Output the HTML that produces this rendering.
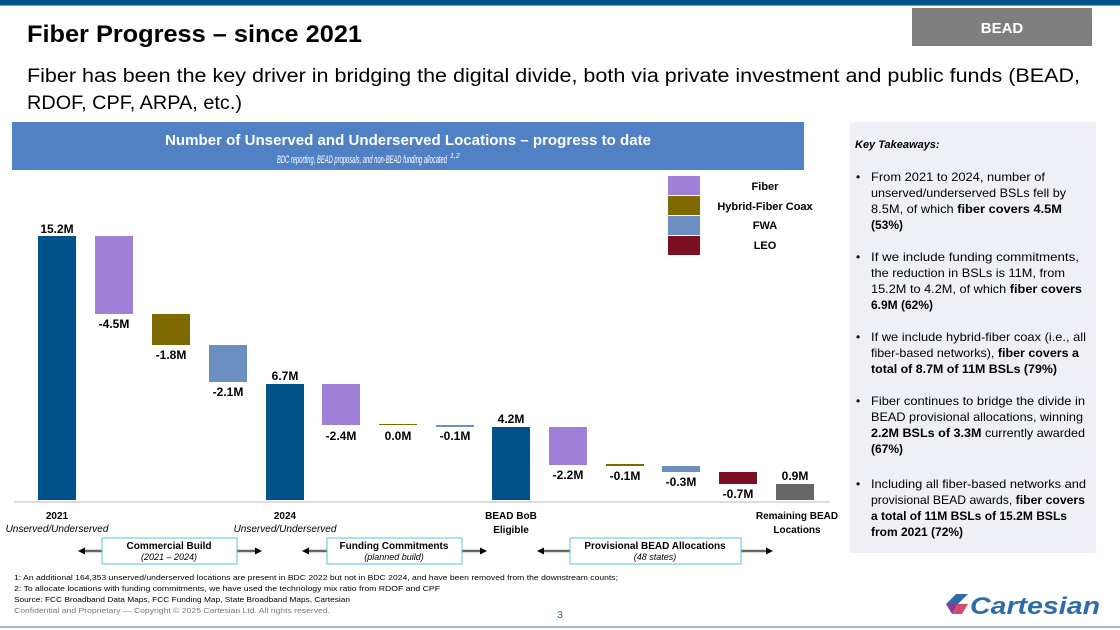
<!DOCTYPE html>
<html><head><meta charset="utf-8"><style>
html,body{margin:0;padding:0;background:#fff;}
svg{display:block;font-family:"Liberation Sans",sans-serif;}
</style></head><body>
<svg width="1120" height="630" viewBox="0 0 1120 630" xmlns="http://www.w3.org/2000/svg">
<rect x="0" y="0" width="1120" height="5" fill="#00538a"/>
<rect x="0" y="5" width="1120" height="1" fill="#7fa7cc"/>
<text x="27" y="42" font-size="24" font-weight="bold" fill="#000" textLength="335" lengthAdjust="spacingAndGlyphs">Fiber Progress – since 2021</text>
<rect x="912" y="8" width="180" height="38" fill="#7f7f7f"/>
<text x="1002" y="33" font-size="15" font-weight="bold" fill="#fff" text-anchor="middle">BEAD</text>
<text x="27" y="82" font-size="19" fill="#000" textLength="1053" lengthAdjust="spacingAndGlyphs">Fiber has been the key driver in bridging the digital divide, both via private investment and public funds (BEAD,</text>
<text x="27" y="109" font-size="19" fill="#000" textLength="215" lengthAdjust="spacingAndGlyphs">RDOF, CPF, ARPA, etc.)</text>
<rect x="12" y="122" width="792" height="48" fill="#4f81c4"/>
<text x="408" y="145" font-size="15" font-weight="bold" fill="#fff" text-anchor="middle" textLength="486" lengthAdjust="spacingAndGlyphs">Number of Unserved and Underserved Locations – progress to date</text>
<text x="277" y="163" font-size="11" font-style="italic" fill="#fff" textLength="170" lengthAdjust="spacingAndGlyphs">BDC reporting, BEAD proposals, and non-BEAD funding allocated</text>
<text x="450" y="158" font-size="7" font-style="italic" fill="#fff">1,2</text>
<!-- legend -->
<rect x="668" y="176" width="32" height="19" fill="#a07fd8"/>
<rect x="668" y="196" width="32" height="19" fill="#7f6a00"/>
<rect x="668" y="216" width="32" height="19" fill="#6b8fc1"/>
<rect x="668" y="236" width="32" height="19" fill="#7b0f22"/>
<g font-size="11" font-weight="bold" fill="#000" text-anchor="middle">
<text x="765" y="190">Fiber</text>
<text x="765" y="210">Hybrid-Fiber Coax</text>
<text x="765" y="229">FWA</text>
<text x="765" y="249">LEO</text>
</g>
<!-- bars -->
<rect x="38" y="236" width="38" height="264" fill="#00538a"/>
<rect x="95" y="236" width="38" height="78" fill="#a07fd8"/>
<rect x="152" y="314" width="38" height="31" fill="#7f6a00"/>
<rect x="209" y="345" width="38" height="37" fill="#6b8fc1"/>
<rect x="266" y="384" width="38" height="116" fill="#00538a"/>
<rect x="322" y="384" width="38" height="41" fill="#a07fd8"/>
<rect x="379" y="424" width="38" height="1" fill="#7f6a00"/>
<rect x="436" y="425" width="38" height="2" fill="#6b8fc1"/>
<rect x="492" y="427" width="38" height="73" fill="#00538a"/>
<rect x="549" y="427" width="38" height="38" fill="#a07fd8"/>
<rect x="606" y="464" width="38" height="2" fill="#7f6a00"/>
<rect x="662" y="466" width="38" height="6" fill="#6b8fc1"/>
<rect x="719" y="472" width="38" height="12" fill="#7b0f22"/>
<rect x="776" y="484" width="38" height="16" fill="#666"/>
<line x1="14" y1="502" x2="830" y2="502" stroke="#bbb" stroke-width="1"/>
<g font-size="12" font-weight="bold" fill="#000" text-anchor="middle">
<text x="57" y="233">15.2M</text>
<text x="114" y="328">-4.5M</text>
<text x="171" y="359">-1.8M</text>
<text x="228" y="396">-2.1M</text>
<text x="285" y="380">6.7M</text>
<text x="341" y="440">-2.4M</text>
<text x="398" y="440">0.0M</text>
<text x="455" y="440">-0.1M</text>
<text x="511" y="423">4.2M</text>
<text x="568" y="479">-2.2M</text>
<text x="625" y="480">-0.1M</text>
<text x="681" y="486">-0.3M</text>
<text x="738" y="498">-0.7M</text>
<text x="795" y="480">0.9M</text>
</g>
<g font-size="10" fill="#000" text-anchor="middle">
<text x="57" y="519" font-weight="bold">2021</text>
<text x="57" y="532" font-style="italic">Unserved/Underserved</text>
<text x="285" y="519" font-weight="bold">2024</text>
<text x="285" y="532" font-style="italic">Unserved/Underserved</text>
<text x="511" y="519" font-weight="bold">BEAD BoB</text>
<text x="511" y="533" font-weight="bold">Eligible</text>
<text x="797" y="519" font-weight="bold">Remaining BEAD</text>
<text x="797" y="533" font-weight="bold">Locations</text>
</g>
<!-- brackets -->
<g stroke="#666" stroke-width="2.5">
<line x1="82" y1="551" x2="102" y2="551"/><line x1="237" y1="551" x2="258" y2="551"/>
<line x1="306" y1="551" x2="327" y2="551"/><line x1="462" y1="551" x2="483" y2="551"/>
<line x1="541" y1="551" x2="570" y2="551"/><line x1="741" y1="551" x2="769" y2="551"/>
</g>
<g fill="#000">
<polygon points="78,551 85,547.5 85,554.5"/><polygon points="262,551 255,547.5 255,554.5"/>
<polygon points="302,551 309,547.5 309,554.5"/><polygon points="487,551 480,547.5 480,554.5"/>
<polygon points="537,551 544,547.5 544,554.5"/><polygon points="773,551 766,547.5 766,554.5"/>
</g>
<rect x="102" y="538" width="135" height="26" fill="#fff" stroke="#5bc0de" stroke-width="1"/>
<rect x="327" y="538" width="135" height="26" fill="#fff" stroke="#5bc0de" stroke-width="1"/>
<rect x="570" y="538" width="171" height="26" fill="#fff" stroke="#5bc0de" stroke-width="1"/>
<g font-size="10" fill="#000" text-anchor="middle">
<text x="169" y="549" font-weight="bold">Commercial Build</text>
<text x="169" y="560" font-style="italic" font-size="9">(2021 – 2024)</text>
<text x="394" y="549" font-weight="bold">Funding Commitments</text>
<text x="394" y="560" font-style="italic" font-size="9">(planned build)</text>
<text x="655" y="549" font-weight="bold">Provisional BEAD Allocations</text>
<text x="655" y="560" font-style="italic" font-size="9">(48 states)</text>
</g>
<g font-size="7.5" fill="#000">
<text x="14" y="580" textLength="604" lengthAdjust="spacingAndGlyphs">1: An additional 164,353 unserved/underserved locations are present in BDC 2022 but not in BDC 2024, and have been removed from the downstream counts;</text>
<text x="14" y="591" textLength="426" lengthAdjust="spacingAndGlyphs">2: To allocate locations with funding commitments, we have used the technology mix ratio from RDOF and CPF</text>
<text x="14" y="602" textLength="336" lengthAdjust="spacingAndGlyphs">Source: FCC Broadband Data Maps, FCC Funding Map, State Broadband Maps, Cartesian</text>
<text x="14" y="613" fill="#777" textLength="316" lengthAdjust="spacingAndGlyphs">Confidential and Proprietary — Copyright © 2025 Cartesian Ltd. All rights reserved.</text>
</g>
<text x="560" y="618" font-size="10" fill="#2e6ca8" text-anchor="middle">3</text>
<rect x="0" y="626" width="1120" height="2" fill="#9dbcdc"/>
<!-- right panel -->
<rect x="850" y="122" width="246" height="431" fill="#eef0f5"/>
<g fill="#000">
<text x="855" y="148" font-size="11" font-weight="bold" font-style="italic">Key Takeaways:</text>
<g font-size="12">
<text x="856" y="181">•</text>
<text x="871" y="181" textLength="174" lengthAdjust="spacingAndGlyphs">From 2021 to 2024, number of</text>
<text x="871" y="197" textLength="195" lengthAdjust="spacingAndGlyphs">unserved/underserved BSLs fell by</text>
<text x="871" y="213" textLength="191" lengthAdjust="spacingAndGlyphs">8.5M, of which <tspan font-weight="bold">fiber covers 4.5M</tspan></text>
<text x="871" y="229" font-weight="bold">(53%)</text>
<text x="856" y="261">•</text>
<text x="871" y="261" textLength="208" lengthAdjust="spacingAndGlyphs">If we include funding commitments,</text>
<text x="871" y="277" textLength="194" lengthAdjust="spacingAndGlyphs">the reduction in BSLs is 11M, from</text>
<text x="871" y="293" textLength="211" lengthAdjust="spacingAndGlyphs">15.2M to 4.2M, of which <tspan font-weight="bold">fiber covers</tspan></text>
<text x="871" y="309" font-weight="bold">6.9M (62%)</text>
<text x="856" y="341">•</text>
<text x="871" y="341" textLength="215" lengthAdjust="spacingAndGlyphs">If we include hybrid-fiber coax (i.e., all</text>
<text x="871" y="357" textLength="208" lengthAdjust="spacingAndGlyphs">fiber-based networks), <tspan font-weight="bold">fiber covers a</tspan></text>
<text x="871" y="373" font-weight="bold" textLength="186" lengthAdjust="spacingAndGlyphs">total of 8.7M of 11M BSLs (79%)</text>
<text x="856" y="405">•</text>
<text x="871" y="405" textLength="214" lengthAdjust="spacingAndGlyphs">Fiber continues to bridge the divide in</text>
<text x="871" y="421" textLength="212" lengthAdjust="spacingAndGlyphs">BEAD provisional allocations, winning</text>
<text x="871" y="437" textLength="214" lengthAdjust="spacingAndGlyphs"><tspan font-weight="bold">2.2M BSLs of 3.3M</tspan> currently awarded</text>
<text x="871" y="453" font-weight="bold">(67%)</text>
<text x="856" y="488">•</text>
<text x="871" y="488" textLength="215" lengthAdjust="spacingAndGlyphs">Including all fiber-based networks and</text>
<text x="871" y="504" textLength="214" lengthAdjust="spacingAndGlyphs">provisional BEAD awards, <tspan font-weight="bold">fiber covers</tspan></text>
<text x="871" y="520" font-weight="bold" textLength="196" lengthAdjust="spacingAndGlyphs">a total of 11M BSLs of 15.2M BSLs</text>
<text x="871" y="536" font-weight="bold">from 2021 (72%)</text>
</g>
</g>
<!-- logo -->
<polygon points="946,604 956,594 968,594 958,604" fill="#2e6ca8"/>
<polygon points="946,604 958,604 952,614" fill="#8b3a8f"/>
<polygon points="958,604 968,604 962,614 952,614" fill="#d84a6b"/>
<text x="970" y="614" font-size="24" font-weight="bold" font-style="italic" fill="#2e6ca8" textLength="130" lengthAdjust="spacingAndGlyphs">Cartesian</text>
</svg>
</body></html>
